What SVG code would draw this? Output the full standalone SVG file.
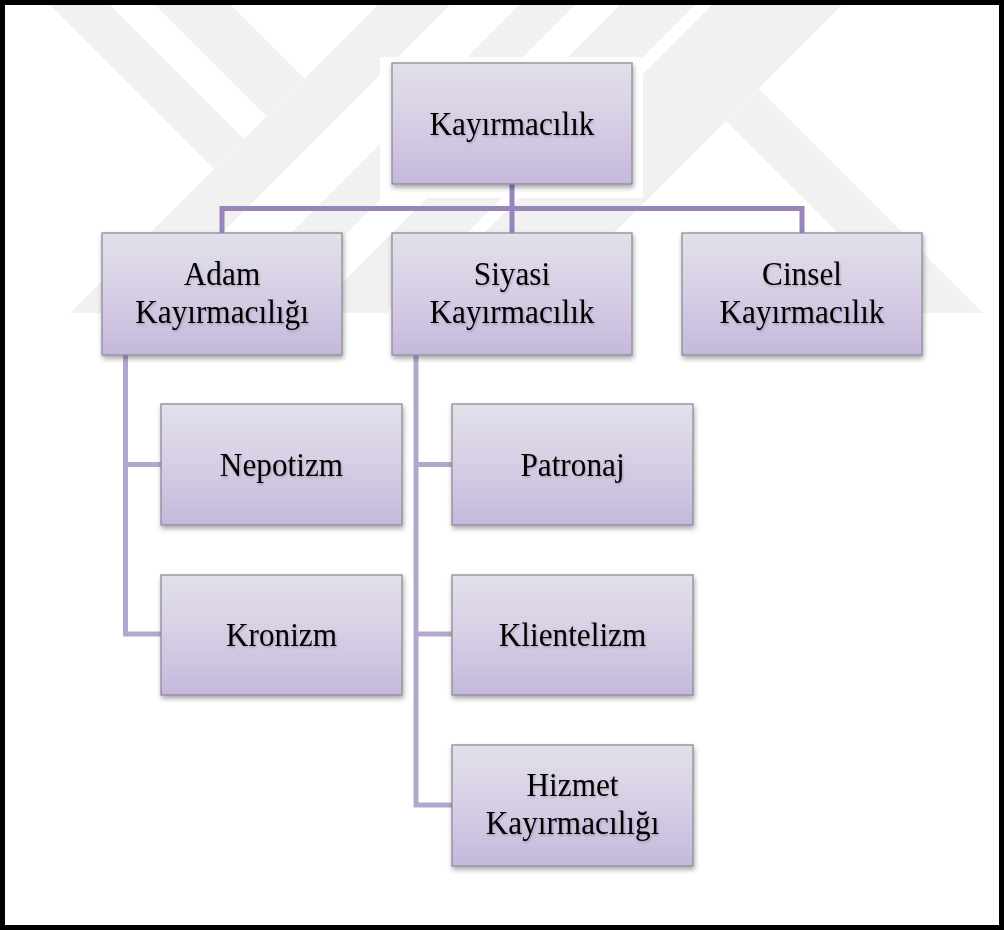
<svg xmlns="http://www.w3.org/2000/svg" width="1004" height="930" viewBox="0 0 1004 930">
  <defs>
    <linearGradient id="boxFill" x1="0" y1="0" x2="0" y2="1">
      <stop offset="0" stop-color="#e2e0ea"/>
      <stop offset="0.5" stop-color="#d7cee5"/>
      <stop offset="1" stop-color="#c5b8dc"/>
    </linearGradient>
    <filter id="boxShadow" x="-10%" y="-10%" width="125%" height="135%">
      <feDropShadow dx="1" dy="3" stdDeviation="2.5" flood-color="#000" flood-opacity="0.35"/>
    </filter>
    <filter id="textShadow" x="-5%" y="-20%" width="110%" height="150%">
      <feDropShadow dx="1" dy="1.5" stdDeviation="1" flood-color="#000" flood-opacity="0.22"/>
    </filter>
    <clipPath id="markClip">
      <rect x="4" y="4" width="996" height="309"/>
    </clipPath>
  </defs>
  <style>
    .box { fill: url(#boxFill); stroke: #8d8c97; stroke-width: 1.3; filter: url(#boxShadow); }
    .label { font-family: "Liberation Serif", "Times New Roman", serif; font-size: 34px; fill: #000; text-anchor: middle; filter: url(#textShadow); }
    .mark { fill: #f1f1f1; }
    .link-main { fill: none; stroke: #9884ba; stroke-width: 5; }
    .link-sub { fill: none; stroke: #b4a7cd; stroke-width: 5; }
  </style>

  <rect x="0" y="0" width="1004" height="930" fill="#ffffff"/>

  <!-- faint background emblem -->
  <g id="watermark" clip-path="url(#markClip)">
    <polygon class="mark" points="50,5 110,5 244,139 214,169"/>
    <polygon class="mark" points="155,5 231,5 304.5,78.5 266.5,116.5"/>
    <polygon class="mark" points="378,5 450,5 142,313 70,313"/>
    <polygon class="mark" points="519,5 575,5 267,313 211,313"/>
    <polygon class="mark" points="620,5 695,5 387,313 312,313"/>
    <polygon class="mark" points="712,5 842,5 534,313 404,313"/>
    <polygon class="mark" points="726,121 758.5,88.5 983,313 918,313"/>
    <rect x="380" y="57" width="263" height="141" fill="#ffffff"/>
  </g>

  <!-- page frame -->
  <rect x="2.5" y="2.5" width="999" height="925" fill="none" stroke="#000" stroke-width="5"/>

  <g id="connectors">
    <path class="link-main" d="M512 184 V233 M222 233 V208.5 H802 V233"/>
    <path class="link-sub" d="M125.5 355 V634 H161 M125.5 464.5 H161"/>
    <path class="link-sub" d="M416 355 V805 H452 M416 464.5 H452 M416 634 H452"/>
  </g>

  <g id="n-kayirmacilik">
    <rect class="box" x="392" y="63" width="240" height="121"/>
    <text class="label" transform="translate(512 135) scale(0.92 1)">Kayırmacılık</text>
  </g>

  <g id="n-adam">
    <rect class="box" x="102" y="233" width="240" height="122"/>
    <text class="label" transform="translate(222 285) scale(0.92 1)">Adam</text>
    <text class="label" transform="translate(222 323) scale(0.92 1)">Kayırmacılığı</text>
  </g>

  <g id="n-siyasi">
    <rect class="box" x="392" y="233" width="240" height="122"/>
    <text class="label" transform="translate(512 285) scale(0.92 1)">Siyasi</text>
    <text class="label" transform="translate(512 323) scale(0.92 1)">Kayırmacılık</text>
  </g>

  <g id="n-cinsel">
    <rect class="box" x="682" y="233" width="240" height="122"/>
    <text class="label" transform="translate(802 285) scale(0.92 1)">Cinsel</text>
    <text class="label" transform="translate(802 323) scale(0.92 1)">Kayırmacılık</text>
  </g>

  <g id="n-nepotizm">
    <rect class="box" x="161" y="404" width="241" height="121"/>
    <text class="label" transform="translate(281.5 476) scale(0.92 1)">Nepotizm</text>
  </g>

  <g id="n-kronizm">
    <rect class="box" x="161" y="575" width="241" height="120"/>
    <text class="label" transform="translate(281.5 646) scale(0.92 1)">Kronizm</text>
  </g>

  <g id="n-patronaj">
    <rect class="box" x="452" y="404" width="241" height="121"/>
    <text class="label" transform="translate(572.5 476) scale(0.92 1)">Patronaj</text>
  </g>

  <g id="n-klientelizm">
    <rect class="box" x="452" y="575" width="241" height="120"/>
    <text class="label" transform="translate(572.5 646) scale(0.92 1)">Klientelizm</text>
  </g>

  <g id="n-hizmet">
    <rect class="box" x="452" y="745" width="241" height="121"/>
    <text class="label" transform="translate(572.5 796) scale(0.92 1)">Hizmet</text>
    <text class="label" transform="translate(572.5 834) scale(0.92 1)">Kayırmacılığı</text>
  </g>
</svg>
